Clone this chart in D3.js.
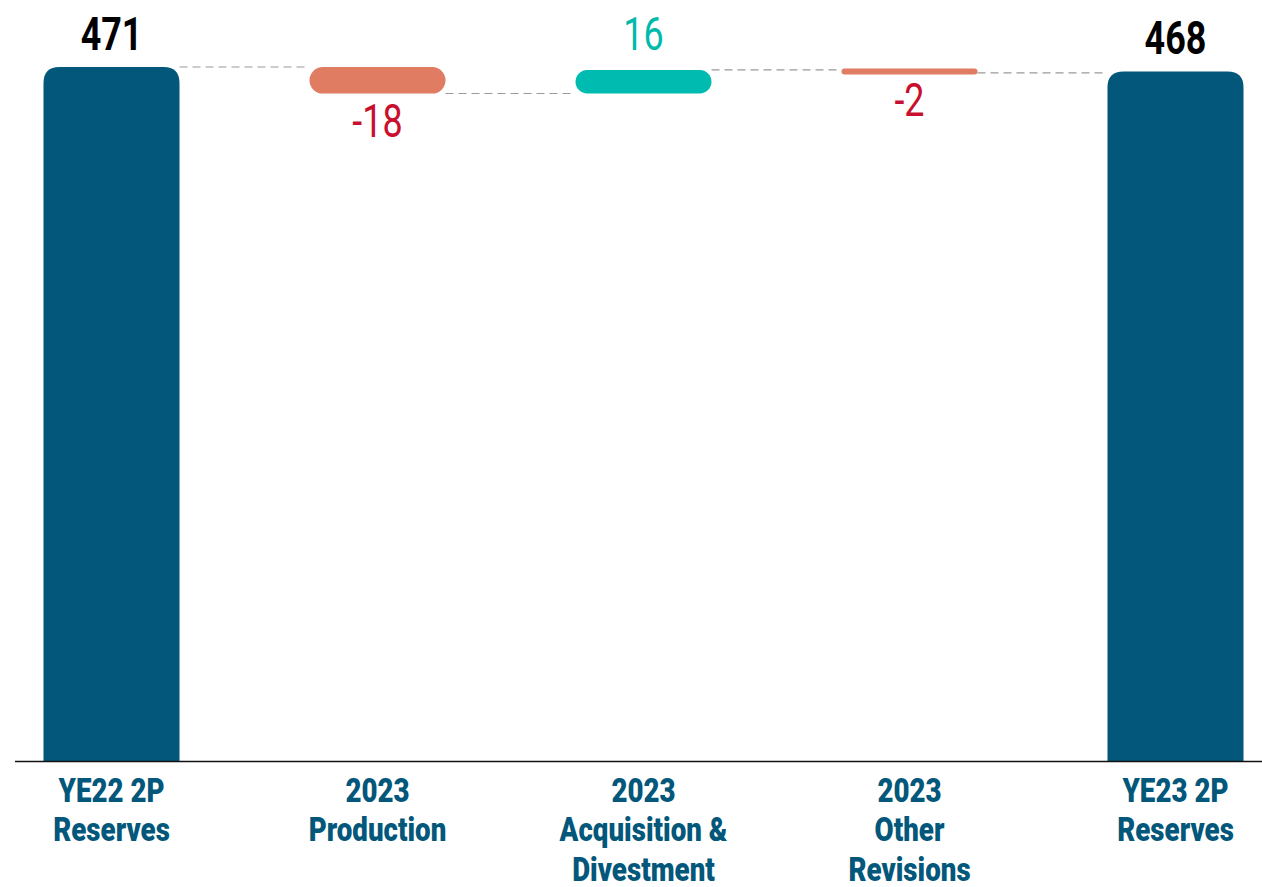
<!DOCTYPE html>
<html>
<head>
<meta charset="utf-8">
<script src="https://cdn.jsdelivr.net/npm/d3@7"></script>
<style>
  body { margin: 0; background: #fff; }
  svg { display: block; }
</style>
</head>
<body>
<svg id="chart"></svg>
<script>
// waterfall of 2P reserves, YE22 -> YE23

const categories = [
  ["YE22 2P", "Reserves"],
  ["2023", "Production"],
  ["2023", "Acquisition &", "Divestment"],
  ["2023", "Other", "Revisions"],
  ["YE23 2P", "Reserves"]
];
const values = [471, -18, 16, -2, 468];
const kinds = ["total", "delta", "delta", "delta", "total"];
const valueLabels = ["471", "-18", "16", "-2", "468"];

const width = 1262;
const height = 887;
const baseY = 761;

const svg = d3.select("#chart").attr("width", width).attr("height", height);

const x = d3.scaleBand()
  .domain(d3.range(values.length))
  .range([43.5, 1243.5])
  .paddingInner(0.4887)
  .paddingOuter(0);

const y = d3.scaleLinear().domain([0, 471]).range([baseY, 67]);

// work out start / end of each step
let running = 0;
const steps = values.map((v, i) => {
  let start, end;
  if (kinds[i] == "total") { start = 0; end = v; running = v; }
  else { start = running; end = running + v; running = end; }
  return { i: i, v: v, start: start, end: end, kind: kinds[i], label: valueLabels[i] };
});

const colTotal = "#02577a";
const colNeg = "#e07c62";
const colPos = "#00bbb0";
const font = "Roboto, 'DejaVu Sans Condensed', sans-serif";
const squeeze = 0.78; // fake a condensed face

// dashed connectors between steps
for (let i = 0; i < steps.length - 1; i++) {
  const lvl = steps[i].end;
  svg.append("line")
    .attr("x1", x(i) + x.bandwidth())
    .attr("x2", x(i + 1))
    .attr("y1", y(lvl))
    .attr("y2", y(lvl))
    .attr("stroke", "#9a9a9a")
    .attr("stroke-width", 1.2)
    .attr("stroke-dasharray", "8,5");
}

// total bars: rounded top only
function topRounded(x0, y0, w, h, r) {
  return "M" + x0 + "," + (y0 + h) +
    "V" + (y0 + r) +
    "Q" + x0 + "," + y0 + " " + (x0 + r) + "," + y0 +
    "H" + (x0 + w - r) +
    "Q" + (x0 + w) + "," + y0 + " " + (x0 + w) + "," + (y0 + r) +
    "V" + (y0 + h) + "Z";
}

steps.filter(d => d.kind == "total").forEach(d => {
  svg.append("path")
    .attr("d", topRounded(x(d.i), y(d.end), x.bandwidth(), baseY - y(d.end), 16))
    .attr("fill", colTotal);
});

// floating pills for the changes
steps.filter(d => d.kind == "delta").forEach(d => {
  const top = y(Math.max(d.start, d.end));
  const bot = y(Math.min(d.start, d.end));
  let h = bot - top;
  let t = top;
  if (h < 6) { t = top - (6 - h) / 2; h = 6; }
  svg.append("rect")
    .attr("x", x(d.i))
    .attr("y", t)
    .attr("width", x.bandwidth())
    .attr("height", h)
    .attr("rx", Math.min(h / 2, 14))
    .attr("ry", Math.min(h / 2, 14))
    .attr("fill", d.v < 0 ? colNeg : colPos);
});

// value labels
steps.forEach(d => {
  const cx = x(d.i) + x.bandwidth() / 2;
  let ty, fill, weight = "normal";
  if (d.kind == "total") { ty = y(d.end) - 17; fill = "#000"; weight = "bold"; }
  else if (d.v < 0) { ty = y(Math.min(d.start, d.end)) + 43; fill = "#c8102e"; }
  else { ty = y(Math.max(d.start, d.end)) - 20; fill = "#00b9ad"; }
  svg.append("text")
    .attr("transform", "translate(" + cx + "," + ty + ") scale(" + squeeze + ",1)")
    .attr("text-anchor", "middle")
    .attr("font-family", font)
    .attr("font-size", "46px")
    .attr("font-weight", weight)
    .attr("fill", fill)
    .text(d.label);
});

// baseline
svg.append("line")
  .attr("x1", 15).attr("x2", width)
  .attr("y1", baseY + 0.5).attr("y2", baseY + 0.5)
  .attr("stroke", "#111").attr("stroke-width", 1.6);

// category labels
categories.forEach((lines, i) => {
  const g = svg.append("g")
    .attr("transform", "translate(" + (x(i) + x.bandwidth() / 2) + ",802) scale(0.84,1)");
  const t = g.append("text")
    .attr("text-anchor", "middle")
    .attr("font-family", font)
    .attr("font-weight", 900)
    .attr("font-size", "33px")
    .attr("fill", "#02577a");
  lines.forEach((ln, j) => {
    t.append("tspan")
      .attr("x", 0)
      .attr("y", j * 39.5)
      .text(ln);
  });
});
</script>
</body>
</html>
